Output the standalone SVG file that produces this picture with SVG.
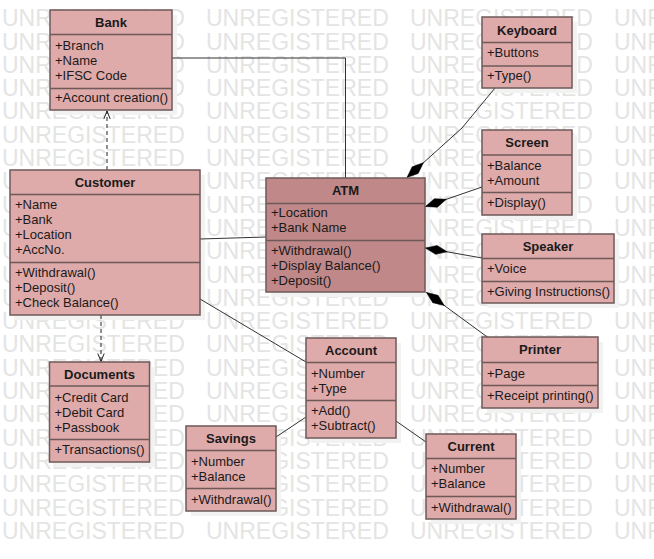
<svg xmlns="http://www.w3.org/2000/svg" width="654" height="559" viewBox="0 0 654 559">
<defs>
<style>
.wm{font-family:"Liberation Sans",Arial,sans-serif;font-size:23px;fill:#e4e4e4}
.sh{fill:#f2f2f2;stroke:none}
.box{fill:#dfaaaa;stroke:#6e5858;stroke-width:1.5}
.atm{fill:#c08888;stroke:#6e5858;stroke-width:1.5}
.dv{stroke:#6e5858;stroke-width:1.5}
.t{font-family:"Liberation Sans",Arial,sans-serif;font-size:13px;font-weight:bold;fill:#1a1a1a;text-anchor:middle}
.a{font-family:"Liberation Sans",Arial,sans-serif;font-size:13px;fill:#1a1a1a}
.ln{fill:none;stroke:#333;stroke-width:1}
.dash{fill:none;stroke:#222;stroke-width:1;stroke-dasharray:4,3}
</style>
<marker id="dia" markerUnits="userSpaceOnUse" markerWidth="24" markerHeight="12" refX="0" refY="6" orient="auto" viewBox="0 0 24 12" overflow="visible">
<path d="M0,6 L11,1.5 L22,6 L11,10.5 Z" fill="#000" stroke="#000" stroke-width="0.5"/>
</marker>
<marker id="open" markerUnits="userSpaceOnUse" markerWidth="12" markerHeight="10" refX="10" refY="5" orient="auto" viewBox="0 0 12 10" overflow="visible">
<path d="M2,1.8 L10,5 L2,8.2" fill="none" stroke="#222" stroke-width="1"/>
</marker>
</defs>
<rect x="0" y="0" width="654" height="559" fill="#ffffff"/>
<g id="watermark" class="wm">
<text y="26.2"><tspan x="2">UNREGISTERED</tspan><tspan x="206">UNREGISTERED</tspan><tspan x="410">UNREGISTERED</tspan><tspan x="614">UNR</tspan></text>
<text y="49.5"><tspan x="2">UNREGISTERED</tspan><tspan x="206">UNREGISTERED</tspan><tspan x="410">UNREGISTERED</tspan><tspan x="614">UNR</tspan></text>
<text y="72.8"><tspan x="2">UNREGISTERED</tspan><tspan x="206">UNREGISTERED</tspan><tspan x="410">UNREGISTERED</tspan><tspan x="614">UNR</tspan></text>
<text y="96.1"><tspan x="2">UNREGISTERED</tspan><tspan x="206">UNREGISTERED</tspan><tspan x="410">UNREGISTERED</tspan><tspan x="614">UNR</tspan></text>
<text y="119.4"><tspan x="2">UNREGISTERED</tspan><tspan x="206">UNREGISTERED</tspan><tspan x="410">UNREGISTERED</tspan><tspan x="614">UNR</tspan></text>
<text y="142.7"><tspan x="2">UNREGISTERED</tspan><tspan x="206">UNREGISTERED</tspan><tspan x="410">UNREGISTERED</tspan><tspan x="614">UNR</tspan></text>
<text y="166"><tspan x="2">UNREGISTERED</tspan><tspan x="206">UNREGISTERED</tspan><tspan x="410">UNREGISTERED</tspan><tspan x="614">UNR</tspan></text>
<text y="189.3"><tspan x="2">UNREGISTERED</tspan><tspan x="206">UNREGISTERED</tspan><tspan x="410">UNREGISTERED</tspan><tspan x="614">UNR</tspan></text>
<text y="212.6"><tspan x="2">UNREGISTERED</tspan><tspan x="206">UNREGISTERED</tspan><tspan x="410">UNREGISTERED</tspan><tspan x="614">UNR</tspan></text>
<text y="235.9"><tspan x="2">UNREGISTERED</tspan><tspan x="206">UNREGISTERED</tspan><tspan x="410">UNREGISTERED</tspan><tspan x="614">UNR</tspan></text>
<text y="259.2"><tspan x="2">UNREGISTERED</tspan><tspan x="206">UNREGISTERED</tspan><tspan x="410">UNREGISTERED</tspan><tspan x="614">UNR</tspan></text>
<text y="282.5"><tspan x="2">UNREGISTERED</tspan><tspan x="206">UNREGISTERED</tspan><tspan x="410">UNREGISTERED</tspan><tspan x="614">UNR</tspan></text>
<text y="305.8"><tspan x="2">UNREGISTERED</tspan><tspan x="206">UNREGISTERED</tspan><tspan x="410">UNREGISTERED</tspan><tspan x="614">UNR</tspan></text>
<text y="329.1"><tspan x="2">UNREGISTERED</tspan><tspan x="206">UNREGISTERED</tspan><tspan x="410">UNREGISTERED</tspan><tspan x="614">UNR</tspan></text>
<text y="352.4"><tspan x="2">UNREGISTERED</tspan><tspan x="206">UNREGISTERED</tspan><tspan x="410">UNREGISTERED</tspan><tspan x="614">UNR</tspan></text>
<text y="375.7"><tspan x="2">UNREGISTERED</tspan><tspan x="206">UNREGISTERED</tspan><tspan x="410">UNREGISTERED</tspan><tspan x="614">UNR</tspan></text>
<text y="399"><tspan x="2">UNREGISTERED</tspan><tspan x="206">UNREGISTERED</tspan><tspan x="410">UNREGISTERED</tspan><tspan x="614">UNR</tspan></text>
<text y="422.3"><tspan x="2">UNREGISTERED</tspan><tspan x="206">UNREGISTERED</tspan><tspan x="410">UNREGISTERED</tspan><tspan x="614">UNR</tspan></text>
<text y="445.6"><tspan x="2">UNREGISTERED</tspan><tspan x="206">UNREGISTERED</tspan><tspan x="410">UNREGISTERED</tspan><tspan x="614">UNR</tspan></text>
<text y="468.9"><tspan x="2">UNREGISTERED</tspan><tspan x="206">UNREGISTERED</tspan><tspan x="410">UNREGISTERED</tspan><tspan x="614">UNR</tspan></text>
<text y="492.2"><tspan x="2">UNREGISTERED</tspan><tspan x="206">UNREGISTERED</tspan><tspan x="410">UNREGISTERED</tspan><tspan x="614">UNR</tspan></text>
<text y="515.5"><tspan x="2">UNREGISTERED</tspan><tspan x="206">UNREGISTERED</tspan><tspan x="410">UNREGISTERED</tspan><tspan x="614">UNR</tspan></text>
<text y="538.8"><tspan x="2">UNREGISTERED</tspan><tspan x="206">UNREGISTERED</tspan><tspan x="410">UNREGISTERED</tspan><tspan x="614">UNR</tspan></text>
</g>
<g id="shadows">
<rect class="sh" x="55" y="15" width="122" height="100"/>
<rect class="sh" x="15" y="175" width="190" height="145"/>
<rect class="sh" x="271" y="183" width="159" height="114"/>
<rect class="sh" x="487" y="22" width="90" height="71"/>
<rect class="sh" x="487" y="135" width="90" height="85"/>
<rect class="sh" x="487" y="239" width="132" height="69"/>
<rect class="sh" x="487" y="342" width="116" height="71"/>
<rect class="sh" x="54.5" y="367" width="100" height="100"/>
<rect class="sh" x="191" y="431" width="90" height="85"/>
<rect class="sh" x="311" y="343" width="90" height="100"/>
<rect class="sh" x="431" y="439" width="90" height="85"/>
</g>
<g id="connectors">
<polyline class="ln" points="172,58 345.5,58 345.5,178"/>
<line class="dash" x1="107" y1="170" x2="107" y2="111" marker-end="url(#open)"/>
<line class="dash" x1="101" y1="315" x2="101" y2="361.5" marker-end="url(#open)"/>
<line class="ln" x1="200" y1="239" x2="266" y2="237"/>
<line class="ln" x1="200" y1="299" x2="306" y2="362"/>
<line class="ln" x1="306" y1="417" x2="276" y2="437"/>
<line class="ln" x1="396" y1="421" x2="426" y2="442"/>
<path class="ln" d="M407,177.5 L462,128 L495,88" marker-start="url(#dia)"/>
<path class="ln" d="M425.5,206.5 L482,187" marker-start="url(#dia)"/>
<path class="ln" d="M425.5,248 L482,258" marker-start="url(#dia)"/>
<path class="ln" d="M426.5,292.5 L488,337.5" marker-start="url(#dia)"/>
</g>
<g id="bank">
<rect class="box" x="50" y="10" width="122" height="100"/>
<line class="dv" x1="50" y1="34.5" x2="172" y2="34.5"/>
<line class="dv" x1="50" y1="88.5" x2="172" y2="88.5"/>
<text class="t" x="111" y="27">Bank</text>
<text class="a" x="55" y="49.5">+Branch</text>
<text class="a" x="55" y="64.5">+Name</text>
<text class="a" x="55" y="79.5">+IFSC Code</text>
<text class="a" x="55" y="102">+Account creation()</text>
</g>
<g id="customer">
<rect class="box" x="10" y="170" width="190" height="145"/>
<line class="dv" x1="10" y1="194.5" x2="200" y2="194.5"/>
<line class="dv" x1="10" y1="262.5" x2="200" y2="262.5"/>
<text class="t" x="105" y="187">Customer</text>
<text class="a" x="15" y="209">+Name</text>
<text class="a" x="15" y="224">+Bank</text>
<text class="a" x="15" y="239">+Location</text>
<text class="a" x="15" y="254">+AccNo.</text>
<text class="a" x="15" y="277">+Withdrawal()</text>
<text class="a" x="15" y="292">+Deposit()</text>
<text class="a" x="15" y="307">+Check Balance()</text>
</g>
<g id="atm">
<rect class="atm" x="266" y="178" width="159" height="114"/>
<line class="dv" x1="266" y1="203.5" x2="425" y2="203.5"/>
<line class="dv" x1="266" y1="240.5" x2="425" y2="240.5"/>
<text class="t" x="345.5" y="195">ATM</text>
<text class="a" x="271" y="217">+Location</text>
<text class="a" x="271" y="232">+Bank Name</text>
<text class="a" x="271" y="255">+Withdrawal()</text>
<text class="a" x="271" y="270">+Display Balance()</text>
<text class="a" x="271" y="285">+Deposit()</text>
</g>
<g id="keyboard">
<rect class="box" x="482" y="17" width="90" height="71"/>
<line class="dv" x1="482" y1="42.5" x2="572" y2="42.5"/>
<line class="dv" x1="482" y1="66" x2="572" y2="66"/>
<text class="t" x="527" y="35">Keyboard</text>
<text class="a" x="487" y="57">+Buttons</text>
<text class="a" x="487" y="80">+Type()</text>
</g>
<g id="screen">
<rect class="box" x="482" y="130" width="90" height="85"/>
<line class="dv" x1="482" y1="155" x2="572" y2="155"/>
<line class="dv" x1="482" y1="192.5" x2="572" y2="192.5"/>
<text class="t" x="527" y="147">Screen</text>
<text class="a" x="487" y="169.5">+Balance</text>
<text class="a" x="487" y="184.5">+Amount</text>
<text class="a" x="487" y="207">+Display()</text>
</g>
<g id="speaker">
<rect class="box" x="482" y="234" width="132" height="69"/>
<line class="dv" x1="482" y1="258.5" x2="614" y2="258.5"/>
<line class="dv" x1="482" y1="281.5" x2="614" y2="281.5"/>
<text class="t" x="548" y="251">Speaker</text>
<text class="a" x="487" y="273">+Voice</text>
<text class="a" x="487" y="296">+Giving Instructions()</text>
</g>
<g id="printer">
<rect class="box" x="482" y="337" width="116" height="71"/>
<line class="dv" x1="482" y1="362.5" x2="598" y2="362.5"/>
<line class="dv" x1="482" y1="385.5" x2="598" y2="385.5"/>
<text class="t" x="540" y="354">Printer</text>
<text class="a" x="487" y="377.5">+Page</text>
<text class="a" x="487" y="400">+Receipt printing()</text>
</g>
<g id="documents">
<rect class="box" x="49.5" y="362" width="100" height="100"/>
<line class="dv" x1="49.5" y1="386" x2="149.5" y2="386"/>
<line class="dv" x1="49.5" y1="439.5" x2="149.5" y2="439.5"/>
<text class="t" x="99.5" y="378.5">Documents</text>
<text class="a" x="54.5" y="401.5">+Credit Card</text>
<text class="a" x="54.5" y="416.5">+Debit Card</text>
<text class="a" x="54.5" y="431.5">+Passbook</text>
<text class="a" x="54.5" y="454">+Transactions()</text>
</g>
<g id="savings">
<rect class="box" x="186" y="426" width="90" height="85"/>
<line class="dv" x1="186" y1="450.5" x2="276" y2="450.5"/>
<line class="dv" x1="186" y1="488.5" x2="276" y2="488.5"/>
<text class="t" x="231" y="443">Savings</text>
<text class="a" x="191" y="465.5">+Number</text>
<text class="a" x="191" y="480.5">+Balance</text>
<text class="a" x="191" y="504">+Withdrawal()</text>
</g>
<g id="account">
<rect class="box" x="306" y="338" width="90" height="100"/>
<line class="dv" x1="306" y1="362.5" x2="396" y2="362.5"/>
<line class="dv" x1="306" y1="400.5" x2="396" y2="400.5"/>
<text class="t" x="351" y="355">Account</text>
<text class="a" x="311" y="377.5">+Number</text>
<text class="a" x="311" y="392.5">+Type</text>
<text class="a" x="311" y="415">+Add()</text>
<text class="a" x="311" y="430">+Subtract()</text>
</g>
<g id="current">
<rect class="box" x="426" y="434" width="90" height="85"/>
<line class="dv" x1="426" y1="458.5" x2="516" y2="458.5"/>
<line class="dv" x1="426" y1="496.5" x2="516" y2="496.5"/>
<text class="t" x="471" y="451">Current</text>
<text class="a" x="431" y="473">+Number</text>
<text class="a" x="431" y="488">+Balance</text>
<text class="a" x="431" y="511.5">+Withdrawal()</text>
</g>
</svg>
